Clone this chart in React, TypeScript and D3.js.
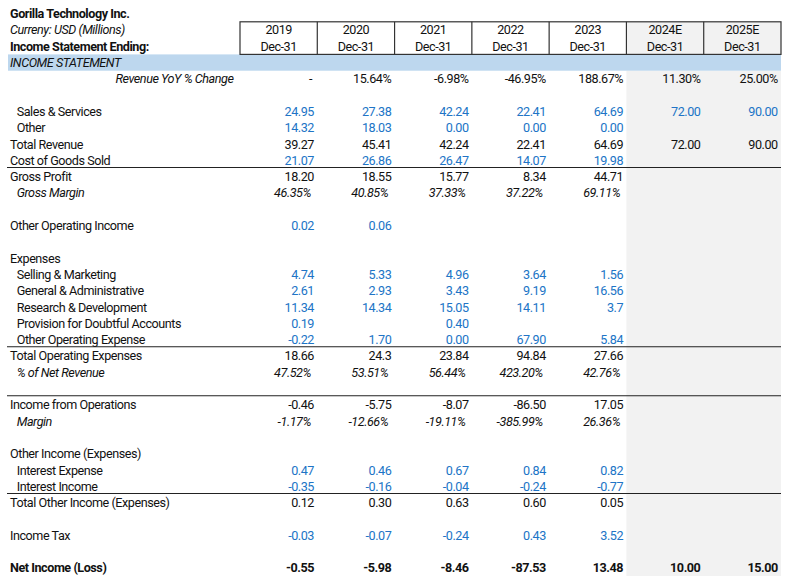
import React from "react";
import * as d3 from "d3";

const W = 789;
const H = 585;

// ---------- data ----------
const years = ["2019", "2020", "2021", "2022", "2023", "2024E", "2025E"];
const periodEnd = ["Dec-31", "Dec-31", "Dec-31", "Dec-31", "Dec-31", "Dec-31", "Dec-31"];
const estimateYears = ["2024E", "2025E"];

const companyName = "Gorilla Technology Inc.";
const currencyNote = "Curreny: USD (Millions)";
const statementEnding = "Income Statement Ending:";
const sectionTitle = "INCOME STATEMENT";

type V = number | null;
const revenueYoY: V[] = [null, 15.64, -6.98, -46.95, 188.67, 11.3, 25.0];
const salesServices: V[] = [24.95, 27.38, 42.24, 22.41, 64.69, 72.0, 90.0];
const otherRevenue: V[] = [14.32, 18.03, 0.0, 0.0, 0.0, null, null];
const totalRevenue: V[] = [39.27, 45.41, 42.24, 22.41, 64.69, 72.0, 90.0];
const costOfGoodsSold: V[] = [21.07, 26.86, 26.47, 14.07, 19.98, null, null];
const grossProfit: V[] = [18.2, 18.55, 15.77, 8.34, 44.71, null, null];
const grossMargin: V[] = [46.35, 40.85, 37.33, 37.22, 69.11, null, null];
const otherOperatingIncome: V[] = [0.02, 0.06, null, null, null, null, null];
const sellingMarketing: V[] = [4.74, 5.33, 4.96, 3.64, 1.56, null, null];
const generalAdmin: V[] = [2.61, 2.93, 3.43, 9.19, 16.56, null, null];
const researchDev: V[] = [11.34, 14.34, 15.05, 14.11, 3.7, null, null];
const provisionDoubtful: V[] = [0.19, null, 0.4, null, null, null, null];
const otherOperatingExpense: V[] = [-0.22, 1.7, 0.0, 67.9, 5.84, null, null];
const totalOperatingExpenses: V[] = [18.66, 24.3, 23.84, 94.84, 27.66, null, null];
const opexPctRevenue: V[] = [47.52, 53.51, 56.44, 423.2, 42.76, null, null];
const incomeFromOperations: V[] = [-0.46, -5.75, -8.07, -86.5, 17.05, null, null];
const operatingMargin: V[] = [-1.17, -12.66, -19.11, -385.99, 26.36, null, null];
const interestExpense: V[] = [0.47, 0.46, 0.67, 0.84, 0.82, null, null];
const interestIncome: V[] = [-0.35, -0.16, -0.04, -0.24, -0.77, null, null];
const totalOtherIncome: V[] = [0.12, 0.3, 0.63, 0.6, 0.05, null, null];
const incomeTax: V[] = [-0.03, -0.07, -0.24, 0.43, 3.52, null, null];
const netIncome: V[] = [-0.55, -5.98, -8.46, -87.53, 13.48, 10.0, 15.0];

// ---------- layout table ----------
type Kind = "input" | "calc" | "pct" | "yoy" | "head" | "bold";
type Row = {
  label: string;
  values?: V[];
  kind?: Kind;
  indent?: boolean;
  fmt?: "fixed" | "general";
  topRule?: boolean;
};

const rows: (Row | null)[] = [
  { label: companyName, kind: "bold" },
  { label: currencyNote },
  { label: statementEnding, kind: "bold" },
  { label: sectionTitle },
  { label: "Revenue YoY % Change", values: revenueYoY, kind: "yoy" },
  null,
  { label: "Sales & Services", values: salesServices, kind: "input", indent: true },
  { label: "Other", values: otherRevenue, kind: "input", indent: true },
  { label: "Total Revenue", values: totalRevenue, kind: "calc" },
  { label: "Cost of Goods Sold", values: costOfGoodsSold, kind: "input" },
  { label: "Gross Profit", values: grossProfit, kind: "calc", topRule: true },
  { label: "Gross Margin", values: grossMargin, kind: "pct", indent: true },
  null,
  { label: "Other Operating Income", values: otherOperatingIncome, kind: "input" },
  null,
  { label: "Expenses", kind: "head" },
  { label: "Selling & Marketing", values: sellingMarketing, kind: "input", indent: true },
  { label: "General & Administrative", values: generalAdmin, kind: "input", indent: true },
  { label: "Research & Development", values: researchDev, kind: "input", indent: true, fmt: "general" },
  { label: "Provision for Doubtful Accounts", values: provisionDoubtful, kind: "input", indent: true },
  { label: "Other Operating Expense", values: otherOperatingExpense, kind: "input", indent: true },
  { label: "Total Operating Expenses", values: totalOperatingExpenses, kind: "calc", topRule: true, fmt: "general" },
  { label: "% of Net Revenue", values: opexPctRevenue, kind: "pct", indent: true },
  null,
  { label: "Income from Operations", values: incomeFromOperations, kind: "calc", topRule: true },
  { label: "Margin", values: operatingMargin, kind: "pct", indent: true },
  null,
  { label: "Other Income (Expenses)", kind: "head" },
  { label: "Interest Expense", values: interestExpense, kind: "input", indent: true },
  { label: "Interest Income", values: interestIncome, kind: "input", indent: true },
  { label: "Total Other Income (Expenses)", values: totalOtherIncome, kind: "calc", topRule: true },
  null,
  { label: "Income Tax", values: incomeTax, kind: "input" },
  null,
  { label: "Net Income (Loss)", values: netIncome, kind: "bold" },
];

const FONT = "Roboto, 'Liberation Sans', Arial, sans-serif";
const FS = 12.6;
const LS = -0.45;
const BLUE = "#2074c6";
const INK = "#111";
const GRAY = "#f2f2f2";
const BAND = "#bdd7ee";

const locale = d3.formatLocale({ decimal: ".", thousands: ",", grouping: [3], currency: ["$", ""], minus: "-" });
const fixed = locale.format(".2f");

function fmtValue(v: V, row: Row): string {
  if (v === null) return row.kind === "yoy" ? "-" : "";
  if (row.kind === "pct" || row.kind === "yoy") return fixed(v) + "%";
  if (row.fmt === "general") return String(v);
  return fixed(v);
}

export default function App() {
  const x = d3.scaleBand<string>().domain(years).range([240, 781]).paddingInner(0).paddingOuter(0);
  const y = d3.scaleBand<number>().domain(d3.range(rows.length)).range([5.5, 5.5 + rows.length * 16.3]);
  const rh = y.bandwidth();
  const base = (i: number) => (y(i) as number) + rh / 2 + 4.5;
  const labelX = 10;
  const indentX = 16.7;
  const lineX0 = 7;
  const lineX1 = 781;

  const estStart = x(estimateYears[0]) as number;
  const estEnd = (x(estimateYears[estimateYears.length - 1]) as number) + x.bandwidth();

  return (
    <svg
      width={W}
      height={H}
      viewBox={`0 0 ${W} ${H}`}
      style={{ position: "absolute", left: 0, top: 0, background: "#fff" }}
      fontFamily={FONT}
      fontSize={FS}
      letterSpacing={LS}
    >
      <rect x={0} y={0} width={W} height={H} fill="#fff" />
      {/* estimate column shading (body) */}
      <rect x={estStart} y={y(4) as number} width={estEnd - estStart} height={(y(rows.length - 1) as number) + rh - (y(4) as number)} fill={GRAY} />
      {/* header shading */}
      <rect x={estStart} y={y(1) as number} width={estEnd - estStart} height={rh * 2} fill={GRAY} />
      {/* section band */}
      <rect x={8} y={y(3) as number} width={lineX1 - 8} height={rh} fill={BAND} />

      {/* header box */}
      <rect x={240} y={y(1) as number} width={781 - 240} height={rh * 2} fill="none" stroke="#333" strokeWidth={1.2} />
      {years.slice(1).map((yr) => (
        <line key={yr} x1={x(yr) as number} x2={x(yr) as number} y1={y(1) as number} y2={(y(1) as number) + rh * 2} stroke="#333" strokeWidth={1.2} />
      ))}
      {years.map((yr, j) => (
        <g key={"h" + yr}>
          <text x={(x(yr) as number) + x.bandwidth() / 2} y={base(1)} textAnchor="middle" fill={INK}>{yr}</text>
          <text x={(x(yr) as number) + x.bandwidth() / 2} y={base(2)} textAnchor="middle" fill={INK}>{periodEnd[j]}</text>
        </g>
      ))}

      {/* top text */}
      <text x={labelX} y={base(0)} fontWeight="bold" fill={INK}>{companyName}</text>
      <text x={labelX} y={base(1)} fontStyle="italic" fill={INK}>{currencyNote}</text>
      <text x={labelX} y={base(2)} fontWeight="bold" fill={INK}>{statementEnding}</text>
      <text x={labelX} y={base(3)} fontStyle="italic" fill={INK}>{sectionTitle}</text>

      {rows.map((row, i) => {
        if (!row || i < 4) return null;
        const lx = row.kind === "yoy" ? 233.5 : row.indent ? indentX : labelX;
        const italic = row.kind === "pct" || row.kind === "yoy";
        const bold = row.kind === "bold";
        return (
          <g key={i}>
            {row.topRule && (
              <line x1={lineX0} x2={lineX1} y1={(y(i) as number) - 1} y2={(y(i) as number) - 1} stroke="#222" strokeWidth={1.1} />
            )}
            <text
              x={lx}
              y={base(i)}
              textAnchor={row.kind === "yoy" ? "end" : "start"}
              fontStyle={italic ? "italic" : "normal"}
              fontWeight={bold ? "bold" : "normal"}
              fill={INK}
            >
              {row.label}
            </text>
            {row.values &&
              row.values.map((v, j) => {
                const s = fmtValue(v, row);
                if (!s) return null;
                const right = (x(years[j]) as number) + x.bandwidth() - (row.kind === "pct" ? 6.3 : 3.3) - (v === null ? 2 : 0);
                return (
                  <text
                    key={j}
                    x={right}
                    y={base(i)}
                    textAnchor="end"
                    fontStyle={row.kind === "pct" ? "italic" : "normal"}
                    fontWeight={bold ? "bold" : "normal"}
                    fill={row.kind === "input" ? BLUE : INK}
                  >
                    {s}
                  </text>
                );
              })}
          </g>
        );
      })}
    </svg>
  );
}
